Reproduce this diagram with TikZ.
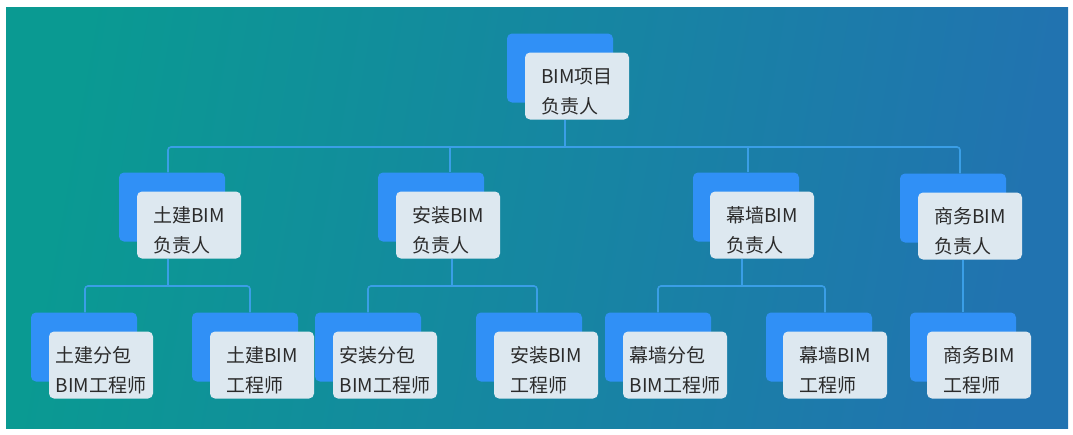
\documentclass[tikz,border=0pt]{standalone}
\usepackage{fontspec}
\setmainfont{Noto Sans CJK SC}
\definecolor{bgL}{HTML}{0A9A92}
\definecolor{bgR}{HTML}{2173B0}
\definecolor{backblue}{HTML}{3090F6}
\definecolor{frontgray}{HTML}{DDE8F0}
\definecolor{linecol}{HTML}{3A9EE6}
\definecolor{txtcol}{HTML}{2B2B2B}
\newcommand{\mystrut}{\rule{0pt}{26pt}}
\tikzset{
  backbox/.style={fill=backblue, rounded corners=5pt, minimum width=106pt, minimum height=69pt, inner sep=0pt},
  frontbox/.style={fill=frontgray, rounded corners=5pt, minimum width=104pt, minimum height=67pt, inner sep=0pt,
    align=left, text=txtcol, font=\fontsize{19}{30}\selectfont},
  conn/.style={draw=linecol, line width=1.6pt, rounded corners=3pt}
}
\begin{document}
\begin{tikzpicture}[x=1pt,y=-1pt]
\useasboundingbox[fill=white] (0,0) rectangle (1073,434);
\shade[left color=bgL, right color=bgR, shading angle=80] (6,7) rectangle (1068,428);

% junction coordinates
\coordinate (c0) at (565,147);
\coordinate (c1) at (168,147);
\coordinate (c2) at (450,147);
\coordinate (c3) at (748,147);
\coordinate (c4) at (960,147);
\coordinate (d1) at (168,286);
\coordinate (d2) at (452,286);
\coordinate (d3) at (742,286);
\coordinate (d4) at (963,286);
\coordinate (e11) at (85,286);
\coordinate (e12) at (250,286);
\coordinate (e21) at (368,286);
\coordinate (e22) at (537,286);
\coordinate (e31) at (658,286);
\coordinate (e32) at (825,286);

% level 1
\node[backbox] (topb) at (560,68) {};
\node[frontbox] (top) at (577,86) {\mystrut BIM项目\\负责人};

% level 2
\node[backbox] (tjb) at (172,207) {};
\node[frontbox] (tj) at (189,225) {\mystrut 土建BIM\\负责人};
\node[backbox] (azb) at (431,207) {};
\node[frontbox] (az) at (448,225) {\mystrut 安装BIM\\负责人};
\node[backbox] (mqb) at (746,207) {};
\node[frontbox] (mq) at (762,225) {\mystrut 幕墙BIM\\负责人};
\node[backbox] (swb) at (953,208) {};
\node[frontbox] (sw) at (970,226) {\mystrut 商务BIM\\负责人};

% level 3
\node[backbox] (t1b) at (84,347) {};
\node[frontbox] (t1) at (101,365) {\mystrut 土建分包\\BIM工程师};
\node[backbox] (t2b) at (245,347) {};
\node[frontbox] (t2) at (262,365) {\mystrut 土建BIM\\工程师};
\node[backbox] (a1b) at (368,347) {};
\node[frontbox] (a1) at (385,365) {\mystrut 安装分包\\BIM工程师};
\node[backbox] (a2b) at (529,347) {};
\node[frontbox] (a2) at (546,365) {\mystrut 安装BIM\\工程师};
\node[backbox] (m1b) at (658,347) {};
\node[frontbox] (m1) at (675,365) {\mystrut 幕墙分包\\BIM工程师};
\node[backbox] (m2b) at (819,347) {};
\node[frontbox] (m2) at (835,365) {\mystrut 幕墙BIM\\工程师};
\node[backbox] (s1b) at (963,347) {};
\node[frontbox] (s1) at (979,365) {\mystrut 商务BIM\\工程师};

% connectors level 1 -> 2
\draw[conn] (top.south -| c0) -- (c0);
\draw[conn] (tjb.north -| c1) |- (c4) -- (swb.north -| c4);
\draw[conn] (azb.north -| c2) -- (c2);
\draw[conn] (mqb.north -| c3) -- (c3);

% connectors level 2 -> 3
\draw[conn] (tj.south -| d1) -- (d1);
\draw[conn] (t1b.north -| e11) |- (e12) -- (t2b.north -| e12);
\draw[conn] (az.south -| d2) -- (d2);
\draw[conn] (a1b.north -| e21) |- (e22) -- (a2b.north -| e22);
\draw[conn] (mq.south -| d3) -- (d3);
\draw[conn] (m1b.north -| e31) |- (e32) -- (m2b.north -| e32);
\draw[conn] (sw.south -| d4) -- (s1b.north -| d4);
\end{tikzpicture}
\end{document}
